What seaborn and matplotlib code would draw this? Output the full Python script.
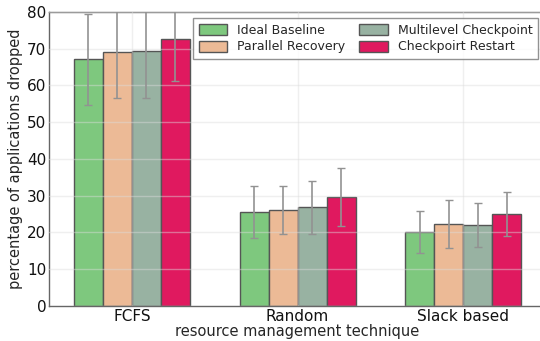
import matplotlib
matplotlib.use("Agg")
import matplotlib.pyplot as plt
import seaborn as sns
import pandas as pd
import numpy as np

techniques = ["FCFS", "Random", "Slack based"]
methods = ["Ideal Baseline", "Parallel Recovery", "Multilevel Checkpoint", "Checkpoirt Restart"]
colors = ["#7ec87e", "#ecba96", "#98b2a2", "#e0195f"]

ideal_baseline = [67.1, 25.5, 20.1]
parallel_recovery = [69.0, 26.1, 22.2]
multilevel_checkpoint = [69.3, 26.8, 22.0]
checkpoint_restart = [72.7, 29.6, 25.0]

ideal_baseline_err = [12.4, 7.1, 5.8]
parallel_recovery_err = [12.3, 6.5, 6.5]
multilevel_checkpoint_err = [12.6, 7.3, 6.0]
checkpoint_restart_err = [11.4, 7.8, 5.9]

means = [ideal_baseline, parallel_recovery, multilevel_checkpoint, checkpoint_restart]
errs = [ideal_baseline_err, parallel_recovery_err, multilevel_checkpoint_err, checkpoint_restart_err]

rows = []
for m, vals, ers in zip(methods, means, errs):
    for t, v, e in zip(techniques, vals, ers):
        rows.append({"technique": t, "method": m, "value": v, "err": e})
df = pd.DataFrame(rows)

sns.set_style("white")
plt.rcParams["font.family"] = ["DejaVu Sans"]

fig = plt.figure(figsize=(5.4, 3.41), dpi=100)
ax = fig.add_axes([0.091, 0.103, 0.92, 0.862])

sns.barplot(data=df, x="technique", y="value", hue="method",
            order=techniques, hue_order=methods, palette=colors,
            width=0.7, errorbar=None, edgecolor="#555555", linewidth=1.0,
            saturation=1, ax=ax, legend=True)

# error bars at the centre of each bar
for container, m in zip(ax.containers, methods):
    sub = df[df["method"] == m].set_index("technique").loc[techniques]
    xs = [p.get_x() + p.get_width() / 2 for p in container.patches]
    ax.errorbar(xs, sub["value"].values, yerr=sub["err"].values, fmt="none",
                ecolor="#929292", elinewidth=1.2, capsize=3, capthick=1.0,
                zorder=5)

ax.set_ylim(0, 80)
ax.set_xlim(-0.5, 2.5)
ax.set_yticks(range(0, 81, 10))
ax.grid(True, color="#dcdcdc", linewidth=1.0, alpha=0.45)
ax.set_axisbelow(False)
for s in ax.spines.values():
    s.set_color("#666666")
    s.set_linewidth(1.0)
ax.tick_params(axis="both", length=0, labelsize=11, pad=2, colors="#111111")
ax.set_xlabel("resource management technique", fontsize=10.5, labelpad=0)
ax.set_ylabel("percentage of applications dropped", fontsize=10.5, labelpad=3)

leg = ax.legend(loc="upper right", bbox_to_anchor=(0.997, 0.947),
                bbox_transform=fig.transFigure, borderaxespad=0, ncol=2,
                fontsize=9, frameon=True, fancybox=False, edgecolor="#777777",
                handlelength=2.3, handleheight=1.0, columnspacing=1.1,
                borderpad=0.45, labelspacing=0.3, handletextpad=0.8)
leg.get_frame().set_linewidth(1.0)

fig.savefig("out.png", dpi=100)
